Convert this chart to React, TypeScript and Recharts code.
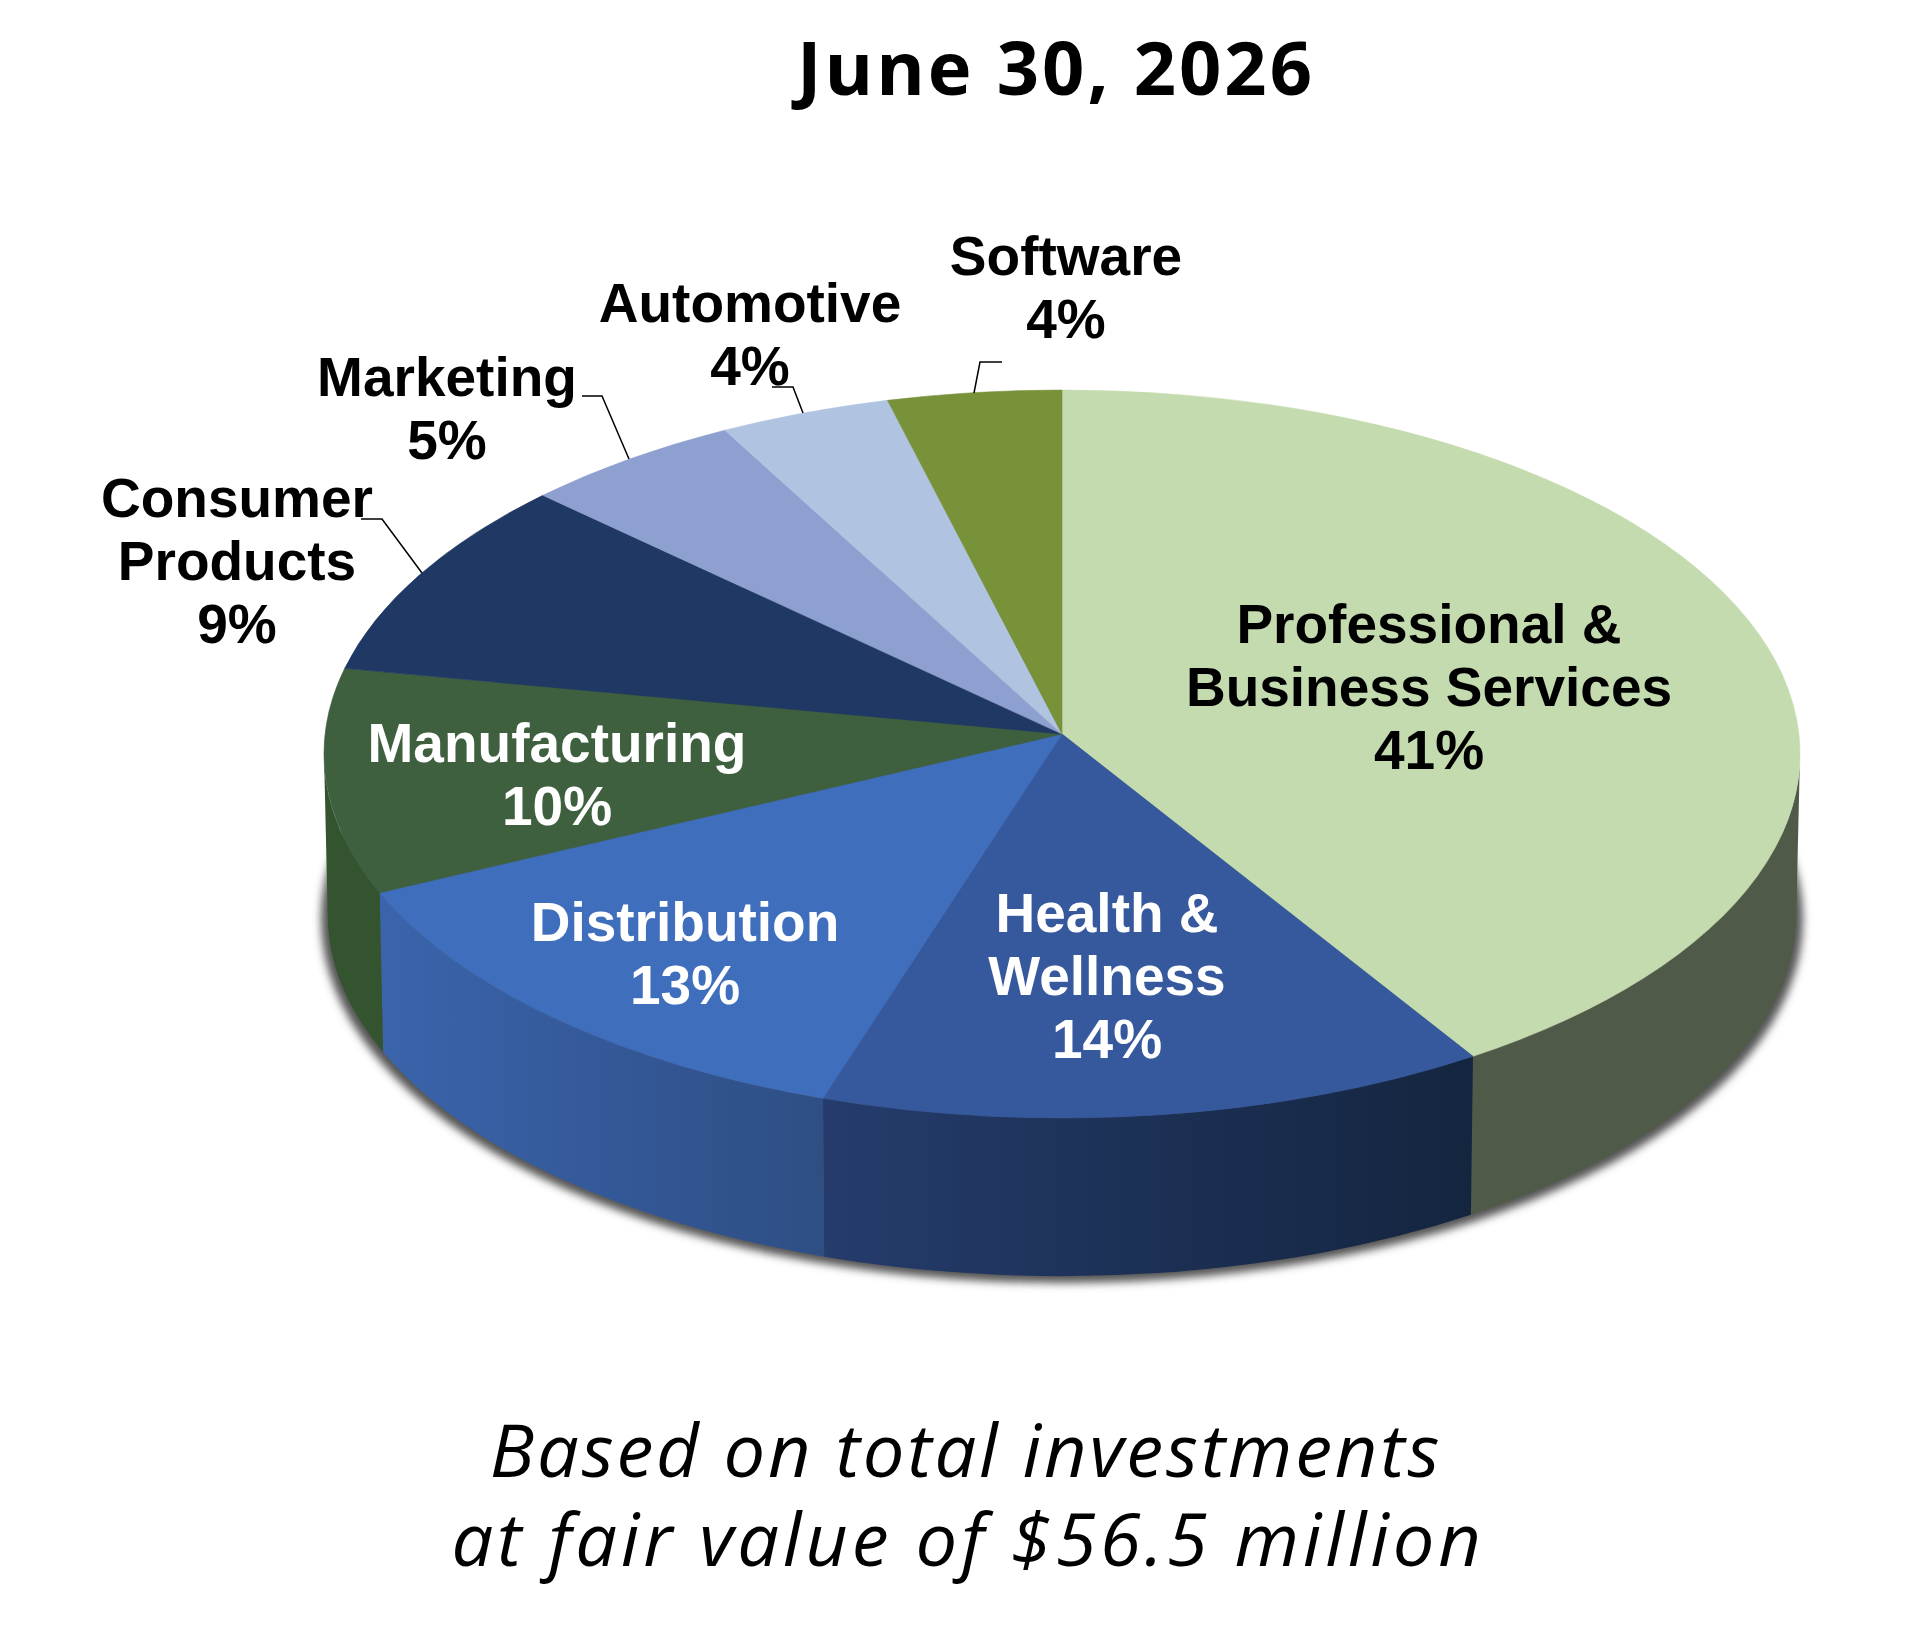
import { PieChart, Pie } from 'recharts';

// Slice shares as read from the arcs; the printed percentages are kept in their own list.
const CATEGORIES = [
  'Professional & Business Services', 'Health & Wellness', 'Distribution', 'Manufacturing',
  'Consumer Products', 'Marketing', 'Automotive', 'Software',
];
const SHARES = [40.6, 14.65, 13.53, 10.0, 8.8, 4.87, 3.75, 3.8];
const PERCENTS = ['41%', '14%', '13%', '10%', '9%', '5%', '4%', '4%'];
const LABEL_LINES = [
  ['Professional &', 'Business Services'], ['Health &', 'Wellness'], ['Distribution'], ['Manufacturing'],
  ['Consumer', 'Products'], ['Marketing'], ['Automotive'], ['Software'],
];

const TOP_COLORS = ['#c4dbaf', '#36589c', '#3f6ebc', '#3f603f', '#1f3864', '#8ea0d0', '#b0c4e2', '#78923a'];
const WALL_FROM = ['#4f5a48', '#253c6c', '#3a64ac', '#34532f', '#1f3864', '#8ea0d0', '#b0c4e2', '#78923a'];
const WALL_TO = ['#4f5a48', '#14253f', '#2e4e84', '#34532f', '#1f3864', '#8ea0d0', '#b0c4e2', '#78923a'];
const LABEL_COLORS = ['#000', '#fff', '#fff', '#fff', '#000', '#000', '#000', '#000'];

// label anchor: centre x, first baseline y
const LABEL_POS = [[1429, 643], [1107, 932], [685, 941], [557, 762], [237, 517], [447, 396], [750, 322], [1066, 275]];
const LEADERS = [
  null, null, null, null,
  '361,519 382,519 422,573',
  '582,396 602,396 629,459',
  '772,387 793,387 803,413',
  '1002,362 980,362 974,393',
];

const data = CATEGORIES.map((name, i) => ({ name, value: SHARES[i], fill: TOP_COLORS[i] }));

const CX = 1062;
const CY = 734;
const RADIUS = 738;
const RY_RATIO = 0.4932;
const ELLIPSE_DROP = 20; // apex sits above the middle of the ellipse (perspective)
const DEPTH = 160;
const BOTTOM_SHRINK = 3.7; // lower rim is a touch narrower than the top one

// angle measured clockwise from 12 o'clock
function rim(cx: number, cy: number, r: number, cw: number) {
  const a = (cw * Math.PI) / 180;
  return [cx + r * Math.sin(a), cy + ELLIPSE_DROP - r * RY_RATIO * Math.cos(a)];
}

function TopSlice(props: any) {
  const { cx, cy, outerRadius: r, startAngle, endAngle, fill } = props;
  const from = 90 - startAngle;
  const to = 90 - endAngle;
  const [x1, y1] = rim(cx, cy, r, from);
  const [x2, y2] = rim(cx, cy, r, to);
  const large = to - from > 180 ? 1 : 0;
  const d = `M${cx} ${cy} L${x1} ${y1} A${r} ${r * RY_RATIO} 0 ${large} 1 ${x2} ${y2} Z`;
  return <path d={d} fill={fill} stroke={fill} strokeWidth={0.6} />;
}

function WallSlice(props: any) {
  const { cx, cy, outerRadius: r, startAngle, endAngle, index } = props;
  const from = Math.max(90 - startAngle, 90);
  const to = Math.min(90 - endAngle, 270);
  if (to <= from) return null;
  const rb = r - BOTTOM_SHRINK;
  const [x1, y1] = rim(cx, cy, r, from);
  const [x2, y2] = rim(cx, cy, r, to);
  const [x3, y3] = rim(cx, cy + DEPTH, rb, to);
  const [x4, y4] = rim(cx, cy + DEPTH, rb, from);
  const d = `M${x1} ${y1} A${r} ${r * RY_RATIO} 0 0 1 ${x2} ${y2} L${x3} ${y3} A${rb} ${rb * RY_RATIO} 0 0 0 ${x4} ${y4} Z`;
  return <path d={d} fill={`url(#wall-${index})`} />;
}

function ShadowShape(props: any) {
  const { cx, cy, outerRadius: r } = props;
  return (
    <ellipse
      cx={cx}
      cy={cy + ELLIPSE_DROP + DEPTH + 5}
      rx={r + 3}
      ry={r * RY_RATIO}
      fill="#555"
      filter="url(#pie-shadow)"
    />
  );
}

function renderLabel(props: any) {
  const i = props.index;
  const [x, y] = LABEL_POS[i];
  const lines = [...LABEL_LINES[i], PERCENTS[i]];
  return (
    <g key={CATEGORIES[i]}>
      {LEADERS[i] && <polyline points={LEADERS[i] as string} fill="none" stroke="#000" strokeWidth={1.5} />}
      <text
        x={x}
        y={y}
        textAnchor="middle"
        fill={LABEL_COLORS[i]}
        fontFamily="'Liberation Sans', Arial, sans-serif"
        fontWeight={700}
        fontSize={55}
      >
        {lines.map((l, n) => (
          <tspan key={n} x={x} y={y + n * 63}>{l}</tspan>
        ))}
      </text>
    </g>
  );
}

export default function App() {
  return (
    <div style={{ position: 'absolute', left: 0, top: 0, width: 1926, height: 1625, background: '#fff' }}>
      <PieChart width={1926} height={1625} margin={{ top: 0, right: 0, bottom: 0, left: 0 }}>
        <defs>
          <filter id="pie-shadow" x="-5%" y="-5%" width="110%" height="110%">
            <feGaussianBlur stdDeviation="4" />
          </filter>
          {WALL_FROM.map((c, i) => (
            <linearGradient id={`wall-${i}`} key={i} x1="0" y1="0" x2="1" y2="0">
              <stop offset="0%" stopColor={c} />
              <stop offset="100%" stopColor={WALL_TO[i]} />
            </linearGradient>
          ))}
        </defs>
        <Pie
          data={[{ name: 'shadow', value: 100 }]}
          dataKey="value"
          cx={CX}
          cy={CY}
          outerRadius={RADIUS}
          startAngle={90}
          endAngle={-270}
          stroke="none"
          shape={ShadowShape}
          isAnimationActive={false}
        />
        <Pie
          data={data}
          dataKey="value"
          cx={CX}
          cy={CY}
          outerRadius={RADIUS}
          startAngle={90}
          endAngle={-270}
          stroke="none"
          shape={WallSlice}
          isAnimationActive={false}
        />
        <Pie
          data={data}
          dataKey="value"
          cx={CX}
          cy={CY}
          outerRadius={RADIUS}
          startAngle={90}
          endAngle={-270}
          stroke="none"
          shape={TopSlice}
          label={renderLabel}
          labelLine={false}
          isAnimationActive={false}
        />
        <text x={1056} y={95} textAnchor="middle" fontFamily="'Open Sans'" fontWeight={700} letterSpacing={3} fontSize={74} fill="#000">
          June 30, 2026
        </text>
        <text x={966} y={1477} textAnchor="middle" fontFamily="'Open Sans'" fontStyle="italic" letterSpacing={2.8} fontSize={74} fill="#000">
          Based on total investments
        </text>
        <text x={968} y={1566} textAnchor="middle" fontFamily="'Open Sans'" fontStyle="italic" letterSpacing={3.8} fontSize={74} fill="#000">
          at fair value of $56.5 million
        </text>
      </PieChart>
    </div>
  );
}
